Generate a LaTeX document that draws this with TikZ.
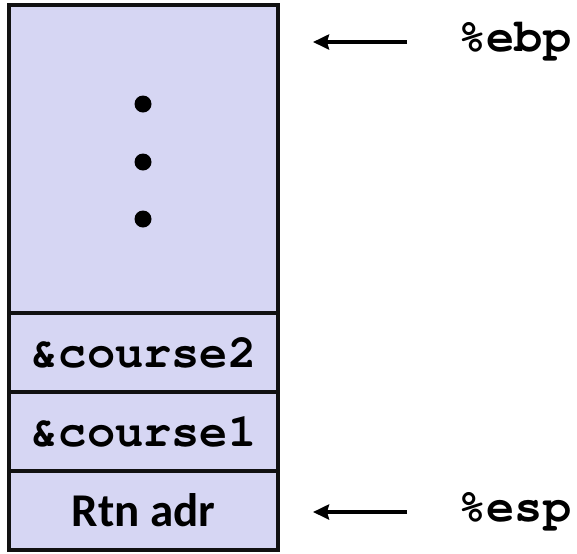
\documentclass[tikz,border=0pt]{standalone}
\usepackage{fontspec}
\newfontfamily\calfont{Carlito}
\newfontfamily\stktt{texgyrecursor-bold.otf}
\usepackage{tikz}
\usetikzlibrary{arrows.meta, positioning}
\definecolor{stkFill}{HTML}{D6D6F3}
\definecolor{stkLine}{HTML}{111111}
\tikzset{
  stk-cell/.style={
    rectangle, draw=stkLine, fill=stkFill, line width=2pt,
    minimum width=134.5pt, minimum height=39.5pt, outer sep=0pt,
    inner sep=0pt, font=\fontsize{23.5}{28}\selectfont\stktt
  },
  stk-reg/.style={font=\fontsize{23.5}{28}\selectfont\stktt,
    inner sep=0pt, anchor=west},
  stk-dot/.style={circle, fill=black, minimum size=8.5pt, inner sep=0pt},
  stk-ptr/.style={-{Stealth[length=8pt, width=7.5pt, inset=1pt]}, line width=2pt},
}

\begin{document}
\begin{tikzpicture}[x=0.5pt, y=-0.5pt]
  \useasboundingbox (0,0) rectangle (577,553);
  \node[stk-cell, minimum height=154pt] (frame) at (143.5,159) {};
  \node[stk-cell, below=0pt of frame] (c2) {\&course2};
  \node[stk-cell, below=0pt of c2] (c1) {\&course1};
  \node[stk-cell, below=0pt of c1, font=\fontsize{23.5}{28}\selectfont\calfont\bfseries]
                                                (ra) {Rtn adr};
  \foreach \y [count=\i] in {104,162,219}
    \node[stk-dot] (dot\i) at (143,\y) {};

  \node[stk-reg] (ebp) at (458,42) {\%ebp};
  \node[stk-reg] (esp) at (458,512) {\%esp};

  \draw[stk-ptr, shorten <=25.5pt, shorten >=17.5pt]
    (ebp.west) -- (ebp.west -| frame.east);
  \draw[stk-ptr, shorten <=25.5pt, shorten >=17.5pt]
    (esp.west) -- (esp.west -| ra.east);
\end{tikzpicture}
\end{document}
